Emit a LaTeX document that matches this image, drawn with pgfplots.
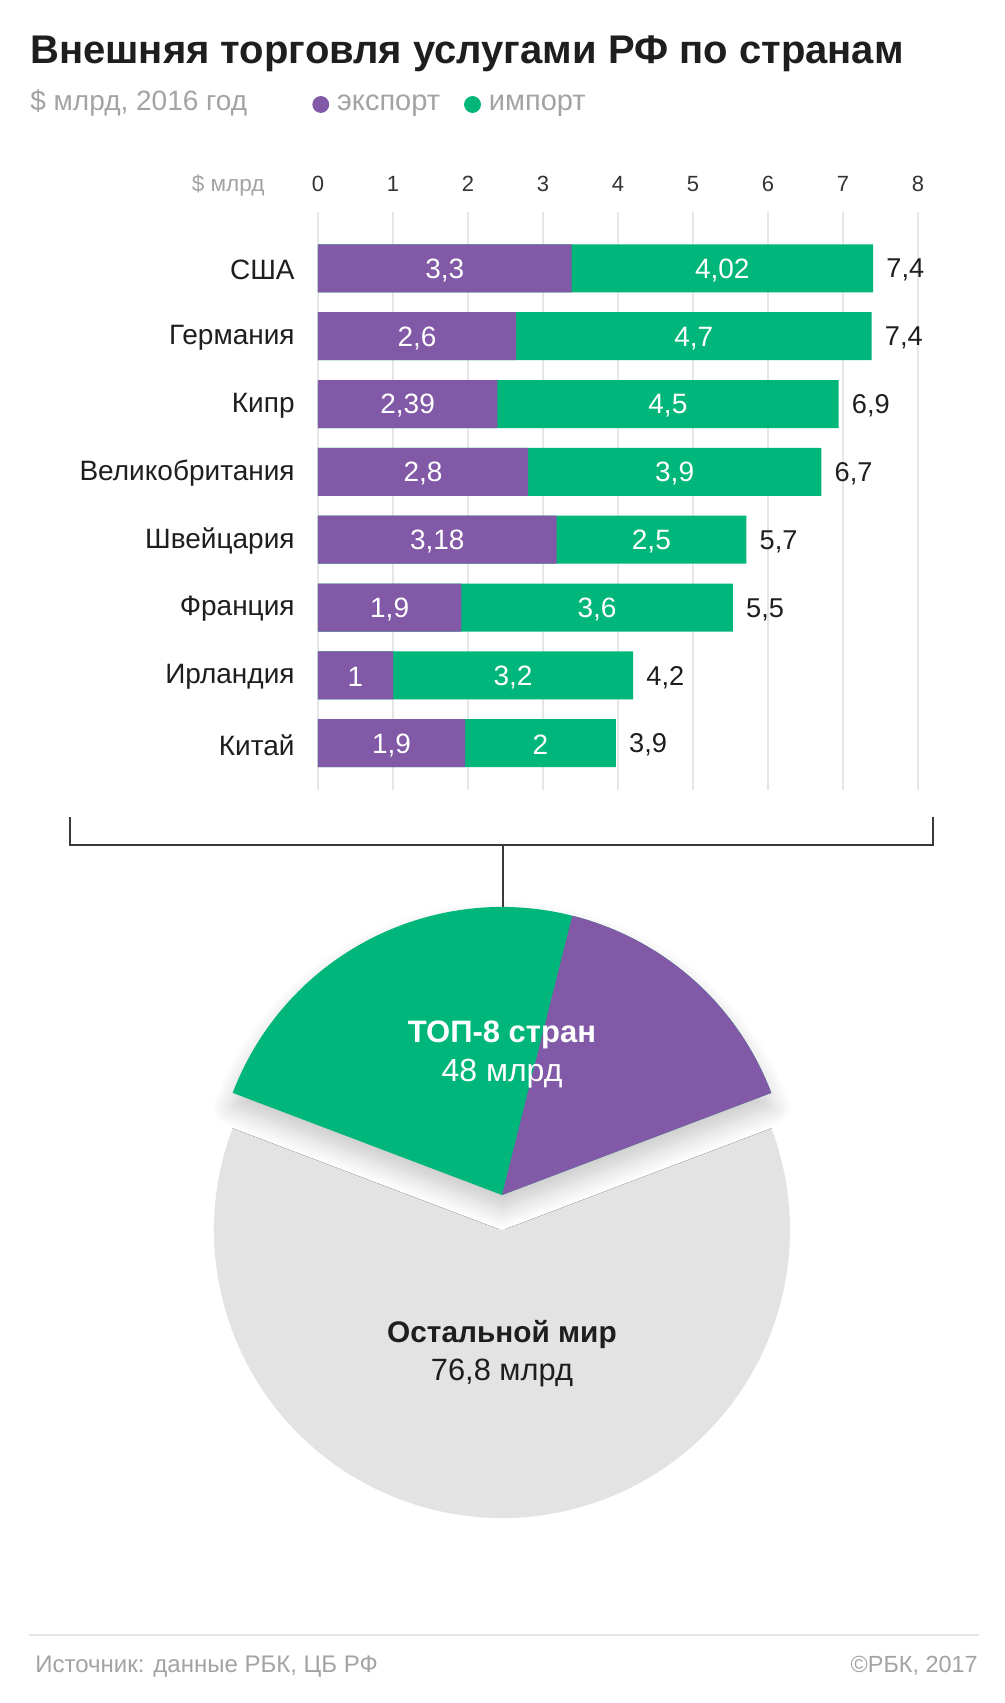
\documentclass[border=0pt]{standalone}
\usepackage{fontspec}
\setmainfont{Liberation Sans}
\usepackage{pgfplots}
\usepackage{pgfplotstable}
\pgfplotsset{compat=1.18}
\usetikzlibrary{shadows.blur}

\definecolor{exportc}{HTML}{8159A7}
\definecolor{importc}{HTML}{00B67B}
\definecolor{restc}{HTML}{E3E3E3}
\definecolor{gridc}{HTML}{E6E6E6}
\definecolor{subc}{HTML}{A3A3A3}
\definecolor{inkc}{HTML}{1E1E1E}
\definecolor{tickc}{HTML}{333333}
\definecolor{bracketc}{HTML}{3A3A3A}

% export / import by country, $ bn (labels as printed)
\pgfplotstableread{
idx exp  imp  el   il   tl
0   3.38 4.02 3,3  4,02 7,4
1   2.64 4.74 2,6  4,7  7,4
2   2.39 4.55 2,39 4,5  6,9
3   2.80 3.91 2,8  3,9  6,7
4   3.18 2.53 3,18 2,5  5,7
5   1.91 3.62 1,9  3,6  5,5
6   1.00 3.20 1    3,2  4,2
7   1.96 2.01 1,9  2    3,9
}\trade

% pie: top-8 export, top-8 import, rest of world
\def\vexp{19.1}
\def\vimp{28.9}
\def\vrest{76.8}

\begin{document}
\begin{tikzpicture}
\pgfmathsetmacro\tot{\vexp+\vimp+\vrest}
\pgfmathsetmacro\aS{90-180*(\vexp+\vimp)/\tot}
\pgfmathsetmacro\aE{\aS+360*\vexp/\tot}
\pgfmathsetmacro\aI{\aE+360*\vimp/\tot}
\pgfmathsetmacro\aR{\aS+360}
\path[use as bounding box] (0,0) rectangle (502.5pt,-851.5pt);

\node[anchor=base west, inner sep=0pt, text=inkc, font=\bfseries\fontsize{20}{24}\selectfont]
  at (15pt,-31.5pt) {Внешняя торговля услугами РФ по странам};
\node[anchor=base west, inner sep=0pt, text=subc, font=\fontsize{14}{16}\selectfont]
  at (15pt,-55pt) {\$ млрд, 2016 год};

\begin{axis}[
  at={(159pt,-106pt)}, anchor=north west,
  scale only axis, width=300pt, height=289pt,
  xmin=0, xmax=8, ymin=-0.83, ymax=7.69, y dir=reverse,
  clip=false,
  axis line style={draw=none},
  major tick length=0pt,
  xtick={0,1,...,8}, xticklabel pos=top,
  /pgf/number format/assume math mode=true,
  xticklabel style={font=\fontsize{11}{12}\selectfont, text=tickc, anchor=base, inner sep=0pt, yshift=10.5pt},
  xmajorgrids, major grid style={draw=gridc, line width=0.75pt},
  ytick={0,...,7},
  yticklabels={США,Германия,Кипр,Великобритания,Швейцария,Франция,Ирландия,Китай},
  yticklabel style={font=\fontsize{14}{16}\selectfont, text=inkc, anchor=east, inner sep=0pt, xshift=-11.5pt, yshift=-0.8pt},
  legend style={at={(axis description cs:-0.01,1.186)}, anchor=west, draw=none, fill=none,
    inner sep=0pt, legend columns=2, font=\fontsize{14.5}{16}\selectfont, text=subc,
    /tikz/every odd column/.append style={column sep=2pt},
    /tikz/every even column/.append style={column sep=10pt}},
  legend image code/.code={\fill[#1] (4pt,0pt) circle (4pt);},
]
\addplot[xbar, bar width=24pt, bar shift=0pt, fill=importc, draw=none, forget plot]
  table[x expr=\thisrow{exp}+\thisrow{imp}, y=idx] {\trade};
\addplot[xbar, bar width=24pt, bar shift=0pt, fill=exportc, draw=none, forget plot]
  table[x=exp, y=idx] {\trade};
\addplot[draw=none, mark=none, forget plot, nodes near coords, point meta=explicit symbolic,
  every node near coord/.append style={anchor=center, yshift=-1pt, text=white, font=\fontsize{14}{16}\selectfont}]
  table[x expr=\thisrow{exp}/2, y=idx, meta=el] {\trade};
\addplot[draw=none, mark=none, forget plot, nodes near coords, point meta=explicit symbolic,
  every node near coord/.append style={anchor=center, yshift=-1pt, text=white, font=\fontsize{14}{16}\selectfont}]
  table[x expr=\thisrow{exp}+\thisrow{imp}/2, y=idx, meta=il] {\trade};
\addplot[draw=none, mark=none, forget plot, nodes near coords, point meta=explicit symbolic,
  every node near coord/.append style={anchor=west, xshift=6.5pt, yshift=-1pt, inner sep=0pt, text=inkc, font=\fontsize{13.6}{15}\selectfont}]
  table[x expr=\thisrow{exp}+\thisrow{imp}, y=idx, meta=tl] {\trade};
\addlegendimage{exportc}\addlegendentry{экспорт}
\addlegendimage{importc}\addlegendentry{импорт}
\node[anchor=base east, inner sep=0pt, text=subc, font=\fontsize{11.3}{13}\selectfont]
  at (axis description cs:0,1) [xshift=-26.5pt, yshift=10.5pt] {\$ млрд};
\end{axis}

% bracket joining the bars to the pie
\draw[bracketc, line width=0.7pt] (35pt,-408.5pt) -- (35pt,-422.5pt) -- (466.5pt,-422.5pt) -- (466.5pt,-408.5pt);
\draw[bracketc, line width=0.7pt] (251.5pt,-422.5pt) -- (251.5pt,-454pt);

\begin{axis}[
  at={(251pt,-615pt)}, anchor=center,
  scale only axis, width=288pt, height=288pt,
  xmin=-144, xmax=144, ymin=-144, ymax=144,
  hide axis, clip=false,
]
\fill[restc] (axis cs:0,0) -- ++(\aI:144pt) arc[start angle=\aI, end angle=\aR, radius=144pt] -- cycle;
\fill[importc, blur shadow={shadow xshift=0pt, shadow yshift=-7pt, shadow blur radius=10pt, shadow opacity=22, shadow blur steps=12}]
  (axis cs:0,17.5) -- ++(\aS:144pt) arc[start angle=\aS, end angle=\aI, radius=144pt] -- cycle;
\fill[exportc] (axis cs:0,17.5) -- ++(\aS:144pt) arc[start angle=\aS, end angle=\aE, radius=144pt] -- cycle;
\node[text=white, font=\bfseries\fontsize{15.5}{18}\selectfont] at (axis cs:0,97.4) {ТОП-8 стран};
\node[text=white, font=\fontsize{16}{18}\selectfont] at (axis cs:0,78.4) {48 млрд};
\node[text=inkc, font=\bfseries\fontsize{14.9}{17}\selectfont] at (axis cs:0,-52.3) {Остальной мир};
\node[text=inkc, font=\fontsize{15.4}{18}\selectfont] at (axis cs:0,-71.5) {76,8 млрд};
\end{axis}

\draw[gridc, line width=0.8pt] (14.5pt,-817.5pt) -- (489.5pt,-817.5pt);
\node[anchor=base west, inner sep=0pt, text=subc, font=\fontsize{12}{14}\selectfont]
  at (17.5pt,-836pt) {Источник: данные РБК, ЦБ РФ};
\node[anchor=base east, inner sep=0pt, text=subc, font=\fontsize{11.7}{14}\selectfont]
  at (489pt,-836pt) {©РБК, 2017};
\end{tikzpicture}
\end{document}
